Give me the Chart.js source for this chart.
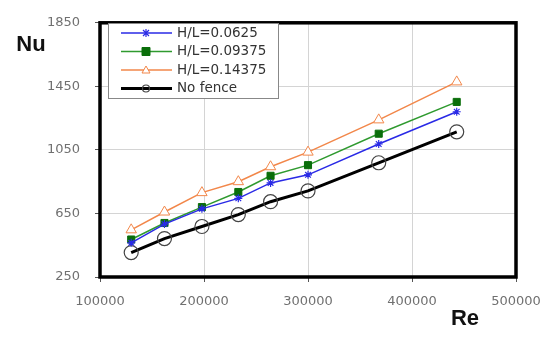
<!DOCTYPE html>
<html>
<head>
<meta charset="utf-8">
<script src="https://cdn.jsdelivr.net/npm/chart.js@4/dist/chart.umd.min.js"></script>
<style>
  html, body { margin: 0; padding: 0; background: #fff; }
  #wrap { width: 553px; height: 338px; }
</style>
</head>
<body>
<div id="wrap"><canvas id="nuChart" width="553" height="338"></canvas></div>
<script>
'use strict';
// Data
const reValues = [130000, 162000, 198000, 233000, 264000, 300000, 368000, 443000];
const nuHL0625 = [465, 583, 679, 745, 842, 893, 1087, 1290];
const nuHL09375 = [486, 590, 690, 785, 887, 954, 1152, 1352];
const nuHL14375 = [547, 659, 781, 850, 944, 1036, 1239, 1478];
const nuNoFence = [404, 492, 568, 643, 724, 792, 969, 1164];
const seriesNames = ['H/L=0.0625', 'H/L=0.09375', 'H/L=0.14375', 'No fence'];
const yTicks = [250, 650, 1050, 1450, 1850];
const xTicks = [100000, 200000, 300000, 400000, 500000];

function toPoints(ys) {
  return ys.map(function (y, i) { return { x: reValues[i], y: y }; });
}

const tickFont = { family: 'DejaVu Sans', size: 13 };
const tickColor = '#707070';

// legend box + thick frame + axis names drawn on the canvas
const framePlugin = {
  id: 'frame',
  afterDraw: function (chart) {
    const ctx = chart.ctx;
    const a = chart.chartArea;
    ctx.save();
    ctx.strokeStyle = '#000';
    ctx.lineWidth = 3.5;
    ctx.strokeRect(a.left, a.top, a.right - a.left, a.bottom - a.top);

    // legend
    const lx = 108, ly = 23, lw = 170, lh = 75;
    ctx.fillStyle = '#fff';
    ctx.fillRect(lx, ly, lw, lh);
    ctx.strokeStyle = '#888';
    ctx.lineWidth = 1;
    ctx.strokeRect(lx + 0.5, ly + 0.5, lw, lh);
    ctx.font = '13.5px "DejaVu Sans"';
    ctx.textBaseline = 'middle';
    chart.data.datasets.forEach(function (ds, i) {
      const y = ly + 10 + i * 18.5;
      ctx.strokeStyle = ds.borderColor;
      ctx.lineWidth = ds.borderWidth;
      ctx.beginPath();
      ctx.moveTo(lx + 13, y);
      ctx.lineTo(lx + 64, y);
      ctx.stroke();
      ctx.fillStyle = ds.pointBackgroundColor;
      ctx.strokeStyle = ds.pointBorderColor;
      ctx.lineWidth = ds.pointBorderWidth;
      ctx.beginPath();
      if (ds.pointStyle === 'rect') {
        ctx.rect(lx + 34, y - 4, 8, 8);
      } else if (ds.pointStyle === 'circle') {
        ctx.arc(lx + 38, y, 3.5, 0, Math.PI * 2);
      } else if (ds.pointStyle === 'triangle') {
        ctx.moveTo(lx + 38, y - 4);
        ctx.lineTo(lx + 42, y + 3);
        ctx.lineTo(lx + 34, y + 3);
        ctx.closePath();
      } else {
        ctx.moveTo(lx + 35, y - 3);
        ctx.lineTo(lx + 41, y + 3);
        ctx.moveTo(lx + 41, y - 3);
        ctx.lineTo(lx + 35, y + 3);
        ctx.moveTo(lx + 38, y - 4);
        ctx.lineTo(lx + 38, y + 4);
      }
      ctx.fill();
      ctx.stroke();
      ctx.fillStyle = '#333';
      ctx.fillText(ds.label, lx + 69, y);
    });

    // axis names
    ctx.fillStyle = '#111';
    ctx.font = 'bold 22px "Liberation Sans"';
    ctx.textAlign = 'center';
    ctx.fillText('Nu', 31, 45);
    ctx.fillText('Re', 465, 319);
    ctx.restore();
  }
};

const nuChart = new Chart(document.getElementById('nuChart'), {
  type: 'line',
  data: {
    datasets: [
      {
        label: seriesNames[0],
        data: toPoints(nuHL0625),
        borderColor: '#2a2ae6',
        borderWidth: 1.5,
        pointStyle: 'star',
        pointRadius: 4,
        pointBorderColor: '#2a2ae6',
        pointBackgroundColor: '#2a2ae6',
        pointBorderWidth: 1.2
      },
      {
        label: seriesNames[1],
        data: toPoints(nuHL09375),
        borderColor: '#2f9a2f',
        borderWidth: 1.5,
        pointStyle: 'rect',
        pointRadius: 5,
        pointBorderColor: '#0a6e0a',
        pointBackgroundColor: '#0a6e0a',
        pointBorderWidth: 1
      },
      {
        label: seriesNames[2],
        data: toPoints(nuHL14375),
        borderColor: '#f2874a',
        borderWidth: 1.5,
        pointStyle: 'triangle',
        pointRadius: 6,
        pointBorderColor: '#f2874a',
        pointBackgroundColor: '#fff',
        pointBorderWidth: 1
      },
      {
        label: seriesNames[3],
        data: toPoints(nuNoFence),
        borderColor: '#000',
        borderWidth: 3,
        pointStyle: 'circle',
        pointRadius: 7,
        pointBorderColor: '#444',
        pointBackgroundColor: 'rgba(255,255,255,0)',
        pointBorderWidth: 1.2
      }
    ]
  },
  options: {
    responsive: false,
    animation: false,
    layout: { padding: { top: 15, right: 37, left: 0, bottom: 0 } },
    plugins: {
      legend: { display: false },
      tooltip: { enabled: false }
    },
    scales: {
      x: {
        type: 'linear',
        min: 100000,
        max: 500000,
        afterBuildTicks: function (s) { s.ticks = xTicks.map(function (v) { return { value: v }; }); },
        afterFit: function (s) { s.height = 61; },
        grid: { color: '#d4d4d4', tickLength: 5, tickColor: '#555', drawTicks: true },
        border: { display: false },
        ticks: { color: tickColor, font: tickFont, padding: 12, maxRotation: 0, callback: function (v) { return String(v); } }
      },
      y: {
        min: 250,
        max: 1850,
        afterBuildTicks: function (s) { s.ticks = yTicks.map(function (v) { return { value: v }; }); },
        afterFit: function (s) { s.width = 100; },
        grid: { color: '#d4d4d4', tickLength: 5, tickColor: '#555' },
        border: { display: false },
        ticks: { color: tickColor, font: tickFont, padding: 15, callback: function (v) { return String(v); } }
      }
    }
  },
  plugins: [framePlugin]
});
</script>
</body>
</html>
